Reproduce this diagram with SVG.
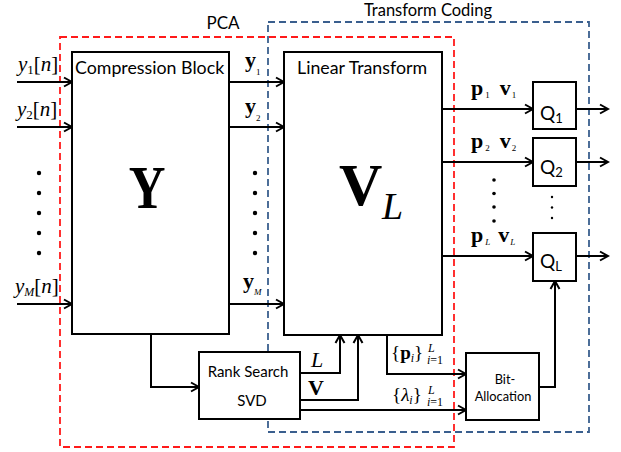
<svg xmlns="http://www.w3.org/2000/svg" width="621" height="452" viewBox="0 0 621 452">
<style>
.box{fill:#fff;stroke:#000;stroke-width:2}
.ln{fill:none;stroke:#000;stroke-width:2}
.arr{fill:none;stroke:#000;stroke-width:2;marker-end:url(#ah)}
.sans{font-family:Lato,"Open Sans","Liberation Sans",sans-serif;fill:#000}
.ser{font-family:"Liberation Serif","Times New Roman",serif;fill:#000}
.it{font-style:italic}
.bd{font-weight:bold}
.dot{fill:#000}
</style>
<defs>
<marker id="ah" markerWidth="12" markerHeight="12" refX="10" refY="6" orient="auto" markerUnits="userSpaceOnUse">
<path d="M2,1.5 L10,6 L2,10.5" fill="none" stroke="#000" stroke-width="2"/>
</marker>
</defs>
<rect width="621" height="452" fill="#fff"/>

<g id="pca-region">
<rect x="60" y="37" width="394" height="410" fill="none" stroke="#ff1a1a" stroke-width="1.8" stroke-dasharray="7,4"/>
<text class="sans" x="223" y="29" font-size="17" text-anchor="middle">PCA</text>
</g>
<g id="transform-coding-region">
<rect x="268" y="22" width="321" height="410" fill="none" stroke="#3a5f8e" stroke-width="1.8" stroke-dasharray="7,4"/>
<text class="sans" x="428" y="16" font-size="16.5" text-anchor="middle">Transform Coding</text>
</g>

<g id="connectors">
<line class="arr" x1="17" y1="82" x2="72" y2="82"/>
<line class="arr" x1="17" y1="127" x2="72" y2="127"/>
<line class="arr" x1="17" y1="304" x2="72" y2="304"/>
<line class="arr" x1="229" y1="82" x2="284" y2="82"/>
<line class="arr" x1="229" y1="127" x2="284" y2="127"/>
<line class="arr" x1="229" y1="304" x2="284" y2="304"/>
<line class="arr" x1="442" y1="109" x2="533" y2="109"/>
<line class="arr" x1="442" y1="162" x2="533" y2="162"/>
<line class="arr" x1="442" y1="256" x2="533" y2="256"/>
<line class="arr" x1="576" y1="109" x2="608" y2="109"/>
<line class="arr" x1="576" y1="162" x2="608" y2="162"/>
<line class="arr" x1="576" y1="256" x2="608" y2="256"/>
<polyline class="arr" points="151,334 151,387 199,387"/>
<polyline class="arr" points="300,373 340,373 340,335"/>
<polyline class="arr" points="300,400 358,400 358,335"/>
<line class="arr" x1="300" y1="410" x2="466" y2="410"/>
<polyline class="arr" points="387,335 387,374 466,374"/>
<polyline class="arr" points="539,387 555,387 555,281"/>
</g>

<g id="compression-block">
<rect class="box" x="72" y="52" width="157" height="282"/>
<text class="sans" x="75" y="74" font-size="17.8">Compression Block</text>
<text class="ser bd" x="0" y="0" font-size="62" text-anchor="middle" transform="translate(147,208) scale(0.82,1)">Y</text>
</g>

<g id="linear-transform">
<rect class="box" x="284" y="52" width="158" height="283"/>
<text class="sans" x="297" y="74" font-size="17.8">Linear Transform</text>
<text class="ser bd" x="339" y="205" font-size="60">V</text>
<text class="ser it" x="382" y="219" font-size="38">L</text>
</g>

<g id="rank-search-svd">
<rect class="box" x="199" y="352" width="101" height="67"/>
<text class="sans" x="248" y="377" font-size="15" text-anchor="middle">Rank Search</text>
<text class="sans" x="252" y="406" font-size="15" text-anchor="middle">SVD</text>
</g>

<g id="bit-allocation">
<rect class="box" x="466" y="353" width="73" height="67"/>
<text class="sans" x="505" y="384" font-size="12.8" text-anchor="middle">Bit-</text>
<text class="sans" x="503" y="401" font-size="12.8" text-anchor="middle">Allocation</text>
</g>

<g id="q1">
<rect class="box" x="533" y="82" width="43" height="47"/>
<text class="sans" x="540" y="120" font-size="19">Q<tspan font-size="13" dy="3">1</tspan></text>
</g>
<g id="q2">
<rect class="box" x="533" y="138" width="43" height="48"/>
<text class="sans" x="540" y="174" font-size="19">Q<tspan font-size="13" dy="3">2</tspan></text>
</g>
<g id="qL">
<rect class="box" x="533" y="233" width="43" height="48"/>
<text class="sans" x="540" y="268" font-size="19">Q<tspan font-size="13" dy="3">L</tspan></text>
</g>

<g id="labels">
<text class="ser" x="18" y="71" font-size="21"><tspan class="it">y</tspan><tspan font-size="13" dy="3">1</tspan><tspan dy="-3">[</tspan><tspan class="it">n</tspan>]</text>
<text class="ser" x="17" y="116" font-size="21"><tspan class="it">y</tspan><tspan font-size="13" dy="3">2</tspan><tspan dy="-3">[</tspan><tspan class="it">n</tspan>]</text>
<text class="ser" x="15" y="293" font-size="21"><tspan class="it">y</tspan><tspan class="it" font-size="12" dy="3">M</tspan><tspan dy="-3">[</tspan><tspan class="it">n</tspan>]</text>

<text class="ser bd" x="245" y="67" font-size="22">y<tspan font-weight="normal" font-size="9" dy="8">1</tspan></text>
<text class="ser bd" x="245" y="113" font-size="22">y<tspan font-weight="normal" font-size="9" dy="8">2</tspan></text>
<text class="ser bd" x="243" y="288" font-size="22">y<tspan font-weight="normal" class="it" font-size="9" dy="7">M</tspan></text>

<text class="ser bd" x="471" y="95" font-size="22">p<tspan font-weight="normal" font-size="9" dx="2" dy="3">1</tspan><tspan dx="10" dy="-3">v</tspan><tspan font-weight="normal" font-size="9" dx="1" dy="3">1</tspan></text>
<text class="ser bd" x="471" y="148" font-size="22">p<tspan font-weight="normal" font-size="9" dx="2" dy="3">2</tspan><tspan dx="10" dy="-3">v</tspan><tspan font-weight="normal" font-size="9" dx="1" dy="3">2</tspan></text>
<text class="ser bd" x="471" y="242" font-size="22">p<tspan font-weight="normal" class="it" font-size="9" dx="2" dy="3">L</tspan><tspan dx="8" dy="-3">v</tspan><tspan font-weight="normal" class="it" font-size="9" dx="1" dy="3">L</tspan></text>

<text class="ser it" x="311" y="367" font-size="22">L</text>
<text class="ser bd" x="308" y="395" font-size="22">V</text>

<text class="ser" x="391" y="359" font-size="19">{<tspan class="bd">p</tspan><tspan class="it" font-size="12" dy="3">i</tspan><tspan dy="-3">}</tspan></text>
<text class="ser it" x="428" y="352" font-size="12">L</text>
<text class="ser" x="427" y="364" font-size="12"><tspan class="it">i</tspan>=1</text>
<text class="ser" x="392" y="401" font-size="19">{<tspan class="it">λ</tspan><tspan class="it" font-size="12" dy="3">i</tspan><tspan dy="-3">}</tspan></text>
<text class="ser it" x="428" y="394" font-size="12">L</text>
<text class="ser" x="427" y="406" font-size="12"><tspan class="it">i</tspan>=1</text>

<circle class="dot" cx="39" cy="173" r="2.2"/><circle class="dot" cx="39" cy="193" r="2.2"/><circle class="dot" cx="39" cy="213" r="2.2"/><circle class="dot" cx="39" cy="233" r="2.2"/><circle class="dot" cx="39" cy="253" r="2.2"/>
<circle class="dot" cx="255" cy="173" r="2.2"/><circle class="dot" cx="255" cy="193" r="2.2"/><circle class="dot" cx="255" cy="213" r="2.2"/><circle class="dot" cx="255" cy="233" r="2.2"/><circle class="dot" cx="255" cy="253" r="2.2"/>
<circle class="dot" cx="494" cy="180" r="1.8"/><circle class="dot" cx="494" cy="193.5" r="1.8"/><circle class="dot" cx="494" cy="207" r="1.8"/><circle class="dot" cx="494" cy="221" r="1.8"/>
<circle class="dot" cx="552" cy="197" r="1.2"/><circle class="dot" cx="552" cy="207.5" r="1.2"/><circle class="dot" cx="552" cy="218" r="1.2"/>
</g>
</svg>
